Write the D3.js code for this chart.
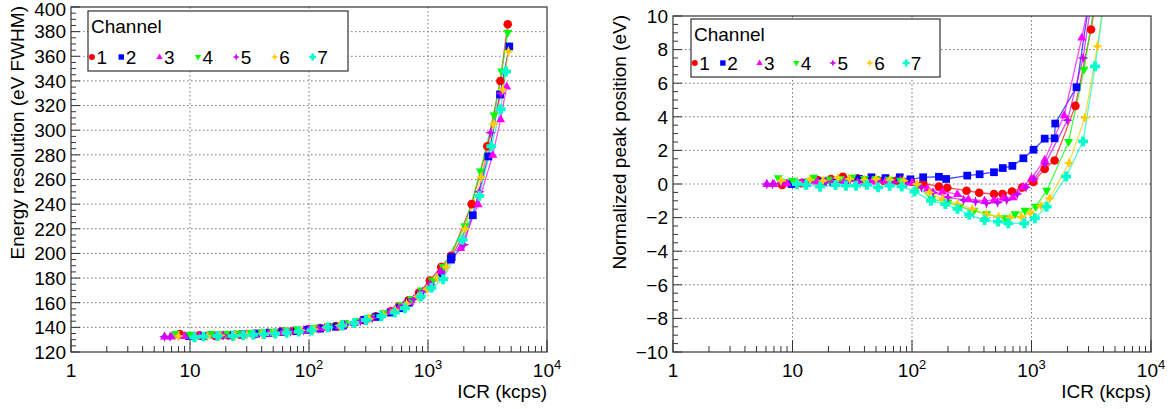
<!DOCTYPE html>
<html><head><meta charset="utf-8">
<script src="https://cdn.jsdelivr.net/npm/d3@7"></script>
<style>
body{margin:0;background:#fff}
svg text{font-family:"Liberation Sans",Arial,Helvetica,sans-serif;fill:#000}
</style>
</head><body>
<svg id="c" width="1170" height="409"></svg>
<script>
// ---------------- data ----------------
const channelNames = ["1","2","3","4","5","6","7"];
const xTickValues = [1, 10, 100, 1000, 10000];
const resTickValues = [120,140,160,180,200,220,240,260,280,300,320,340,360,380,400];
const peakTickValues = [-10,-8,-6,-4,-2,0,2,4,6,8,10];

const ch1Icr  = [8.2,12,16.3,21,26.4,34.9,45,58,75,98,124,168,197,286,365,486,572,686,838,1036,1290,1560,2330,3150,4055,4677];
const ch1Res  = [134.5,133.5,133,133.5,134,134.5,135.5,136.5,137,138.5,139.5,141,142,146,149,153,157,162,168,178,189,198,240,287,340,386];
const ch1Peak = [-0.06,0.05,0.24,0.3,0.43,0.34,0.25,0.2,0.2,0.14,0.05,-0.15,-0.22,-0.4,-0.52,-0.6,-0.6,-0.45,-0.2,0.12,0.9,1.4,4.65,9.2,14,18];

const ch2Icr  = [9.8,13,18,22,27.8,36,45.8,60,79,97,124,168,193,290,368,485,575,692,855,1040,1290,1560,1580,2380,3213,4030,4820];
const ch2Res  = [133,133,133.5,134,134.5,135,135.5,136.5,137,138,139,140.5,141.5,146,148.5,152,155.5,160,166,173,183,195,197,231,278.7,329,368];
const ch2Peak = [0,0.05,0.14,0.1,0.14,0.3,0.4,0.35,0.4,0.28,0.4,0.43,0.3,0.5,0.58,0.7,0.95,1.08,1.53,2.04,2.7,2.72,3.6,5.76,12,18,25];

const ch3Icr  = [6.1,7,9,12,16,21,27,35,46,60,80,100,135,180,240,297,405,484,580,700,850,1000,1290,1880,2640,3500,4080,4580];
const ch3Res  = [132.5,132.5,133,133,133.5,133.5,134,134.5,135,136,137,138,139.5,141,143.5,146,150,153,156.5,160.5,167,173,186,204.5,240,280,309,335.5];
const ch3Peak = [0,0,0.05,0.1,0.15,0.2,0.2,0.1,0.15,0.2,0.24,0.1,-0.26,-0.45,-0.6,-0.9,-1.0,-0.95,-0.81,-0.79,-0.16,0.34,1.45,4.1,8.72,13,17,21];

const ch4Icr  = [7.6,10,15,20,25,31.6,40,50,65,80,111,146,200,250,330,422,600,728,883,1084,1340,2040,2750,3588,4160,4677];
const ch4Res  = [134.5,134,134.5,134.5,135,135.5,136,136.5,137.5,138.5,139.5,141,143.5,145,148,151.5,158,163,170,178,189,222,266.5,312,347.7,379];
const ch4Peak = [0.34,0.2,0.37,0.25,0.3,0.37,0.3,0.3,0.25,0.2,-0.12,-0.9,-1.1,-1.35,-1.6,-1.8,-2.04,-1.8,-1.6,-1.35,-0.4,2.5,6.8,12,16,20];

const ch5Icr  = [6.1,6.8,8,11,14,19,24,30,40,52,70,90,120,150,200,270,340,420,520,620,760,900,1050,1300,2000,2700,3350,4100];
const ch5Res  = [132.5,132.5,133,133,133,133.5,134,134.5,135,135.5,136.5,137.5,139,140,142,145,147.5,150.5,154,158,163,169,175,185,207,250,298,330];
const ch5Peak = [0,0,0.05,0.1,0.1,0.15,0.1,0.2,0.1,0.15,0.1,0.05,-0.2,-0.5,-0.8,-0.95,-1.05,-1.15,-1.1,-0.95,-0.6,-0.2,0.3,1.2,3.8,7.5,12,17];

const ch6Icr  = [8,11,14,18,24,30,40,50,65,85,110,140,180,240,320,420,530,660,820,980,1200,1420,2060,2800,3560,4245,4740];
const ch6Res  = [133,132.5,133,133.5,133.5,134,135,135.5,136.5,137.5,138.5,140,141.5,144,147,150.5,154,159,165,171,180,189,220,262,305,333,364];
const ch6Peak = [0.2,0.1,0.25,0.2,0.35,0.3,0.25,0.3,0.25,0.2,0.0,-0.5,-0.9,-1.2,-1.5,-1.8,-1.95,-2.0,-1.95,-1.7,-1.3,-0.85,1.25,3.95,8.2,12,15];

const ch7Icr  = [10.9,13,17,22.9,28,34,42,52,65,82,105,144,190,240,301,405,525,640,870,1067,1340,1950,2700,3400,4080,4520];
const ch7Res  = [132,132.5,133,133,133.5,134,134.5,135,135.5,136.5,137.5,140,141.5,143.5,146,149,152,155.5,165,172,179,211,246.7,287,317,347.7];
const ch7Peak = [0,-0.05,-0.16,-0.06,-0.1,-0.1,-0.05,-0.2,-0.1,-0.15,-0.45,-1.0,-1.2,-1.48,-1.84,-2.14,-2.24,-2.34,-2.34,-2.04,-1.35,0.45,2.54,7.0,11,14];

const icrData  = [ch1Icr, ch2Icr, ch3Icr, ch4Icr, ch5Icr, ch6Icr, ch7Icr];
const resData  = [ch1Res, ch2Res, ch3Res, ch4Res, ch5Res, ch6Res, ch7Res];
const peakData = [ch1Peak, ch2Peak, ch3Peak, ch4Peak, ch5Peak, ch6Peak, ch7Peak];

// ---------------- styles ----------------
const colors  = ["#ff0000","#0000ff","#ff00ff","#00ff00","#cc00ff","#ffcc00","#00ffcc"];
const shapes  = ["circle","square","triUp","triDown","star4","plus","cross"];
const FONT = 19;

function markerPath(type, r) {
  const pts = [];
  switch (type) {
    case "circle": return d3.symbol(d3.symbolCircle, Math.PI*r*r)();
    case "square": { const s = r*0.9; return `M${-s},${-s}H${s}V${s}H${-s}Z`; }
    case "triUp":   return `M0,${-r*1.15}L${r*1.05},${r*0.7}L${-r*1.05},${r*0.7}Z`;
    case "triDown": return `M0,${r*1.15}L${r*1.05},${-r*0.7}L${-r*1.05},${-r*0.7}Z`;
    case "star4": case "plus": {
      const inner = type === "star4" ? 0.38 : 0.42;
      for (let i = 0; i < 8; i++) {
        const a = i*Math.PI/4 - Math.PI/2;
        const rr = (i % 2 === 0) ? r*1.25 : r*inner*1.25;
        pts.push([rr*Math.cos(a), rr*Math.sin(a)]);
      }
      return "M" + pts.map(p => p.join(",")).join("L") + "Z";
    }
    case "cross": {
      const a = r*1.15, w = r*0.45;
      return `M${-w},${-a}H${w}V${-w}H${a}V${w}H${w}V${a}H${-w}V${w}H${-a}V${-w}H${-w}Z`;
    }
  }
}

const svg = d3.select("#c");
svg.append("rect").attr("width",1170).attr("height",409).attr("fill","#fff");

function drawPanel(cfg) {
  const x = d3.scaleLog().domain([1, 10000]).range([cfg.x0, cfg.x1]);
  const y = d3.scaleLinear().domain(cfg.yDomain).range([cfg.y1, cfg.y0]);
  const g = svg.append("g");

  // grid
  const gridX = xTickValues.slice(1, -1);
  const gridY = cfg.yTicks.slice(1, -1);
  g.selectAll(".gx").data(gridX).join("line")
    .attr("x1", d => x(d)).attr("x2", d => x(d)).attr("y1", cfg.y0).attr("y2", cfg.y1)
    .attr("stroke", "#777").attr("stroke-width", 1).attr("stroke-dasharray", "1.5,2.5");
  g.selectAll(".gy").data(gridY).join("line")
    .attr("x1", cfg.x0).attr("x2", cfg.x1).attr("y1", d => y(d)).attr("y2", d => y(d))
    .attr("stroke", "#777").attr("stroke-width", 1).attr("stroke-dasharray", "1.5,2.5");

  // ticks: x (log, minor at 2..9)
  const minorX = [];
  for (let dec = 1; dec < 10000; dec *= 10) for (let k = 2; k <= 9; k++) minorX.push(dec*k);
  g.selectAll(".tx").data(minorX).join("line")
    .attr("x1", d => x(d)).attr("x2", d => x(d)).attr("y1", cfg.y1).attr("y2", cfg.y1 - 6)
    .attr("stroke", "#333");
  g.selectAll(".tX").data(xTickValues).join("line")
    .attr("x1", d => x(d)).attr("x2", d => x(d)).attr("y1", cfg.y1).attr("y2", cfg.y1 - 12)
    .attr("stroke", "#333");
  // y ticks
  const minorY = [];
  for (let i = 0; i < cfg.yTicks.length - 1; i++) {
    const a = cfg.yTicks[i], b = cfg.yTicks[i+1];
    for (let k = 1; k < 4; k++) minorY.push(a + (b - a)*k/4);
  }
  g.selectAll(".ty").data(minorY).join("line")
    .attr("x1", cfg.x0).attr("x2", cfg.x0 + 5).attr("y1", d => y(d)).attr("y2", d => y(d))
    .attr("stroke", "#333");
  g.selectAll(".tY").data(cfg.yTicks).join("line")
    .attr("x1", cfg.x0).attr("x2", cfg.x0 + 9).attr("y1", d => y(d)).attr("y2", d => y(d))
    .attr("stroke", "#333");

  // x tick labels
  const xl = g.selectAll(".xl").data(xTickValues).join("text")
    .attr("x", d => x(d)).attr("y", cfg.y1 + 25).attr("text-anchor", "middle")
    .attr("font-size", FONT);
  xl.each(function(d) {
    const t = d3.select(this);
    const e = Math.round(Math.log10(d));
    if (e <= 1) t.text(String(d));
    else {
      t.append("tspan").text("10");
      t.append("tspan").attr("dy", -8).attr("font-size", 13).text(String(e));
    }
  });
  // y tick labels
  g.selectAll(".yl").data(cfg.yTicks).join("text")
    .attr("x", cfg.x0 - 5).attr("y", d => Math.max(y(d), 9)).attr("dy", "0.36em")
    .attr("text-anchor", "end").attr("font-size", FONT)
    .text(d => d < 0 ? "\u2212" + Math.abs(d) : String(d));

  // titles
  g.append("text").attr("x", cfg.x1).attr("y", cfg.y1 + 46).attr("text-anchor", "end")
    .attr("font-size", FONT).text("ICR (kcps)");
  g.append("text").attr("transform", `translate(${cfg.yTitleX},${cfg.y0 - 1}) rotate(-90)`)
    .attr("text-anchor", "end").attr("font-size", FONT).text(cfg.yTitle);

  // data
  const clipId = "clip" + cfg.id;
  svg.append("clipPath").attr("id", clipId).append("rect")
    .attr("x", cfg.x0).attr("y", cfg.y0).attr("width", cfg.x1 - cfg.x0).attr("height", cfg.y1 - cfg.y0);
  const dg = g.append("g").attr("clip-path", `url(#${clipId})`);
  const line = d3.line().x(d => x(d[0])).y(d => y(d[1]));
  channelNames.forEach((name, i) => {
    const pts = icrData[i].map((v, j) => [v, cfg.values[i][j]]);
    dg.append("path").datum(pts).attr("d", line)
      .attr("fill", "none").attr("stroke", colors[i]).attr("stroke-width", 1.3).attr("stroke-opacity", 0.7);
  });
  channelNames.forEach((name, i) => {
    const pts = icrData[i].map((v, j) => [v, cfg.values[i][j]])
      .filter(p => p[1] >= cfg.yDomain[0] && p[1] <= cfg.yDomain[1]);
    dg.selectAll(null).data(pts).join("path")
      .attr("d", markerPath(shapes[i], 4.3))
      .attr("transform", d => `translate(${x(d[0])},${y(d[1])})`)
      .attr("fill", colors[i]);
  });

  // frame
  g.append("rect").attr("x", cfg.x0).attr("y", cfg.y0)
    .attr("width", cfg.x1 - cfg.x0).attr("height", cfg.y1 - cfg.y0)
    .attr("fill", "none").attr("stroke", "#333").attr("stroke-width", 1.2);

  // legend
  const L = cfg.legend;
  const lg = svg.append("g");
  lg.append("rect").attr("x", L.x).attr("y", L.y).attr("width", L.w).attr("height", L.h)
    .attr("fill", "#fff").attr("stroke", "#333").attr("stroke-width", 1.2);
  lg.append("text").attr("x", L.x + 3).attr("y", L.y + 22).attr("font-size", FONT).text("Channel");
  const colFrac = [0.015, 0.128, 0.275, 0.423, 0.570, 0.718, 0.864];
  channelNames.forEach((name, i) => {
    const mx = L.x + colFrac[i]*L.w;
    lg.append("path").attr("d", markerPath(shapes[i], 3.0))
      .attr("transform", `translate(${mx},${L.y + L.h - 14})`).attr("fill", colors[i]);
    lg.append("text").attr("x", mx + 4.5).attr("y", L.y + L.h - 7.5)
      .attr("font-size", FONT).text(name);
  });
}

drawPanel({
  id: "L", x0: 71, x1: 547, y0: 7, y1: 352, yDomain: [120, 400], yTicks: resTickValues,
  values: resData, yTitle: "Energy resolution (eV FWHM)", yTitleX: 24,
  legend: {x: 88, y: 11, w: 260, h: 60}
});
drawPanel({
  id: "R", x0: 673, x1: 1151, y0: 16, y1: 352, yDomain: [-10, 10], yTicks: peakTickValues,
  values: peakData, yTitle: "Normalized peak position (eV)", yTitleX: 626,
  legend: {x: 691, y: 19, w: 249, h: 58}
});
</script>
</body></html>
